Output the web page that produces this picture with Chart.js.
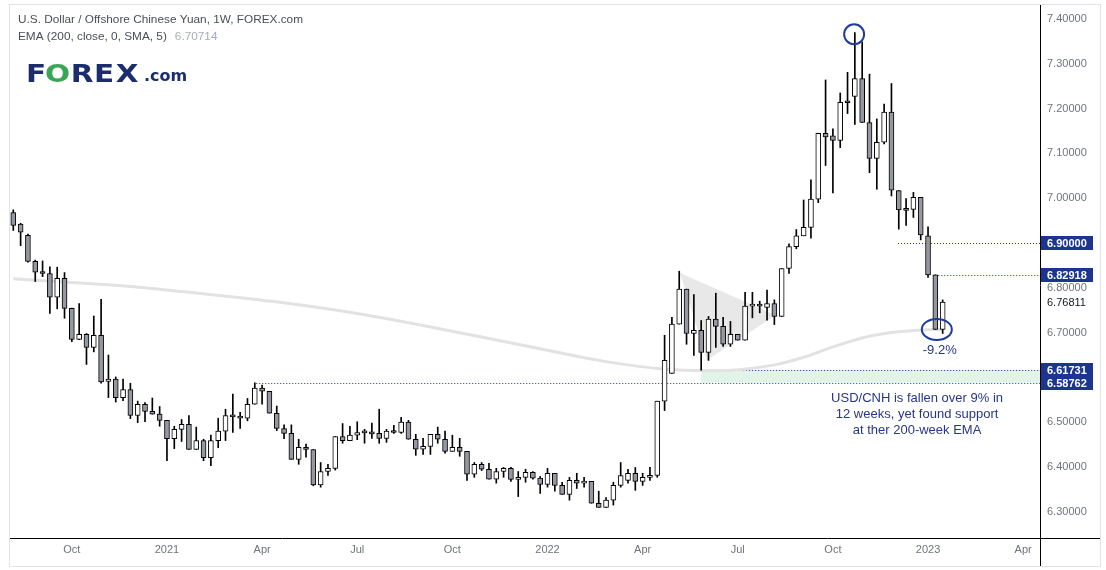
<!DOCTYPE html>
<html>
<head>
<meta charset="utf-8">
<script src="https://cdn.jsdelivr.net/npm/chart.js@4.4.0/dist/chart.umd.min.js"></script>
<style>
  html, body { margin: 0; padding: 0; background: #fff; }
  #wrap { width: 1106px; height: 570px; }
</style>
</head>
<body>
<div id="wrap"><canvas id="chart" width="1106" height="570"></canvas></div>
<script>
// weekly candles, index 0 = week of 10 Aug 2020, one step per week
const opens = [6.968,6.942,6.917,6.859,6.835,6.832,6.779,6.821,6.754,6.685,
  6.696,6.667,6.694,6.591,6.596,6.555,6.573,6.515,6.540,6.524,
  6.518,6.504,6.463,6.484,6.495,6.439,6.459,6.421,6.459,6.480,
  6.515,6.513,6.509,6.540,6.576,6.569,6.520,6.486,6.475,6.417,
  6.444,6.439,6.360,6.390,6.397,6.468,6.459,6.471,6.478,6.478,
  6.475,6.464,6.480,6.477,6.500,6.462,6.440,6.446,6.473,6.462,
  6.435,6.444,6.435,6.384,6.406,6.395,6.373,6.390,6.397,6.372,
  6.377,6.388,6.375,6.361,6.386,6.359,6.339,6.370,6.364,6.368,
  6.319,6.310,6.326,6.359,6.370,6.386,6.368,6.377,6.381,6.547,
  6.609,6.719,6.797,6.698,6.705,6.656,6.730,6.714,6.674,6.696,
  6.683,6.759,6.762,6.756,6.765,6.736,6.843,6.892,6.916,6.935,
  6.998,7.145,7.139,7.129,7.216,7.227,7.267,7.169,7.089,7.125,
  7.192,7.017,6.975,6.975,7.002,6.916,6.829,6.707];
const highs = [6.974,6.944,6.920,6.862,6.860,6.847,6.846,6.834,6.755,6.765,
  6.698,6.737,6.774,6.650,6.601,6.596,6.587,6.547,6.544,6.554,
  6.535,6.504,6.491,6.506,6.515,6.489,6.462,6.471,6.509,6.529,
  6.563,6.522,6.553,6.588,6.583,6.569,6.536,6.494,6.494,6.462,
  6.451,6.439,6.410,6.406,6.468,6.497,6.491,6.501,6.484,6.498,
  6.529,6.484,6.493,6.511,6.504,6.473,6.464,6.473,6.489,6.480,
  6.471,6.464,6.435,6.410,6.410,6.408,6.397,6.399,6.399,6.390,
  6.395,6.390,6.379,6.397,6.386,6.366,6.377,6.386,6.377,6.368,
  6.346,6.332,6.366,6.410,6.395,6.399,6.386,6.399,6.547,6.694,
  6.734,6.837,6.797,6.785,6.727,6.736,6.788,6.734,6.725,6.696,
  6.790,6.790,6.770,6.795,6.773,6.843,6.898,6.930,6.996,7.041,
  7.145,7.264,7.155,7.235,7.281,7.370,7.349,7.277,7.177,7.210,
  7.256,7.017,6.999,7.013,7.002,6.936,6.829,6.773];
const lows = [6.928,6.894,6.857,6.814,6.825,6.743,6.753,6.732,6.680,6.684,
  6.629,6.657,6.587,6.555,6.545,6.548,6.508,6.499,6.501,6.518,
  6.491,6.414,6.441,6.457,6.439,6.439,6.414,6.403,6.443,6.459,
  6.477,6.486,6.503,6.540,6.540,6.520,6.481,6.463,6.417,6.406,
  6.422,6.358,6.355,6.381,6.393,6.453,6.459,6.461,6.453,6.464,
  6.453,6.455,6.475,6.475,6.462,6.426,6.428,6.428,6.453,6.431,
  6.435,6.424,6.370,6.377,6.392,6.373,6.364,6.377,6.368,6.334,
  6.366,6.373,6.341,6.355,6.346,6.339,6.326,6.352,6.355,6.319,
  6.310,6.310,6.315,6.355,6.364,6.348,6.359,6.370,6.377,6.526,
  6.609,6.719,6.674,6.649,6.616,6.638,6.667,6.669,6.669,6.683,
  6.683,6.733,6.744,6.728,6.718,6.736,6.832,6.887,6.916,6.911,
  6.990,7.073,7.012,7.113,7.189,7.165,7.169,7.057,7.020,7.121,
  7.005,6.931,6.939,6.957,6.907,6.823,6.707,6.698];
const closes = [6.939,6.924,6.859,6.835,6.832,6.779,6.821,6.754,6.685,6.696,
  6.667,6.694,6.590,6.596,6.555,6.573,6.515,6.540,6.524,6.518,
  6.504,6.463,6.484,6.495,6.439,6.459,6.421,6.459,6.480,6.515,
  6.512,6.509,6.540,6.576,6.569,6.520,6.486,6.475,6.417,6.444,
  6.439,6.360,6.390,6.397,6.468,6.459,6.471,6.477,6.476,6.474,
  6.464,6.480,6.477,6.500,6.462,6.440,6.446,6.473,6.462,6.435,
  6.444,6.435,6.384,6.406,6.395,6.373,6.390,6.397,6.372,6.377,
  6.388,6.375,6.361,6.386,6.359,6.339,6.370,6.364,6.368,6.319,
  6.310,6.326,6.359,6.381,6.386,6.368,6.377,6.381,6.547,6.638,
  6.719,6.797,6.698,6.705,6.656,6.730,6.714,6.674,6.696,6.683,
  6.759,6.762,6.759,6.765,6.736,6.843,6.892,6.916,6.935,6.998,
  7.145,7.137,7.129,7.214,7.213,7.267,7.169,7.089,7.125,7.192,
  7.018,6.974,6.973,7.002,6.918,6.829,6.707,6.768];

// 200-week EMA at a few weeks
const emaWeeks  = [0, 8, 16, 24, 32, 40, 48, 56, 64, 72, 80, 88, 96, 104, 108, 112, 116, 120, 124, 127];
const emaValues = [6.820,6.812,6.803,6.790,6.776,6.760,6.740,6.716,6.690,6.664,6.638,6.620,6.615,6.628,6.645,6.668,6.688,6.700,6.706,6.707];
const emaLast = 6.70714;

const xTickWeeks  = [8, 21, 34, 47, 60, 73, 86, 99, 112, 125, 138];
const xTickLabels = ['Oct', '2021', 'Apr', 'Jul', 'Oct', '2022', 'Apr', 'Jul', 'Oct', '2023', 'Apr'];
const yTicks = [6.3, 6.4, 6.5, 6.7, 6.8, 7.0, 7.1, 7.2, 7.3, 7.4];

// marked levels and where their dotted lines begin (week)
const levels      = [6.90000, 6.82918, 6.61731, 6.58762];
const levelStarts = [120.9, 126.4, 94, 33.2];
const lastPrice = 6.76811;
const triangleWeeks  = [91.1, 104.2, 94.8];
const triangleValues = [6.833, 6.739, 6.639];

const NAVY = '#1b3591';
const weeks = opens.map((_, i) => i);

Chart.defaults.font.family = "'Liberation Sans', Arial, sans-serif";

const overlay = {
  id: 'overlay',
  beforeDatasetsDraw(chart) {
    const { ctx, chartArea: a, scales: { x, y } } = chart;
    ctx.save();
    ctx.beginPath();
    ctx.rect(a.left, a.top, a.right - a.left, a.bottom - a.top);
    ctx.clip();

    // support zone
    const zx = x.getPixelForValue(levelStarts[2]);
    const zt = y.getPixelForValue(levels[2]), zb = y.getPixelForValue(levels[3]);
    ctx.fillStyle = '#e2f4e7';
    ctx.fillRect(zx, zt, a.right - zx, zb - zt);

    // pennant
    ctx.fillStyle = 'rgba(190,190,190,0.35)';
    ctx.beginPath();
    triangleWeeks.forEach((w, k) => {
      const px = x.getPixelForValue(w), py = y.getPixelForValue(triangleValues[k]);
      k ? ctx.lineTo(px, py) : ctx.moveTo(px, py);
    });
    ctx.closePath();
    ctx.fill();

    // dotted levels
    ctx.strokeStyle = NAVY;
    ctx.lineWidth = 1;
    ctx.setLineDash([1, 2]);
    levels.forEach((v, k) => {
      const py = Math.round(y.getPixelForValue(v)) + 0.5;
      ctx.beginPath();
      ctx.moveTo(x.getPixelForValue(levelStarts[k]), py);
      ctx.lineTo(a.right, py);
      ctx.stroke();
    });
    ctx.restore();
  },
  afterDraw(chart) {
    const { ctx, chartArea: a, scales: { x, y } } = chart;
    ctx.save();

    // frame and axis lines
    ctx.strokeStyle = '#e0e3eb';
    ctx.lineWidth = 1;
    ctx.strokeRect(9.5, 4.5, 1091, 562);
    ctx.strokeStyle = '#000';
    ctx.beginPath();
    ctx.moveTo(a.right + 0.5, 5); ctx.lineTo(a.right + 0.5, 566);
    ctx.moveTo(a.left, a.bottom + 0.5); ctx.lineTo(1100, a.bottom + 0.5);
    ctx.stroke();

    // circles
    ctx.strokeStyle = '#1f3c9a';
    ctx.lineWidth = 2;
    ctx.beginPath();
    ctx.ellipse(x.getPixelForValue(114.9), y.getPixelForValue(7.366), 10, 10, 0, 0, Math.PI * 2);
    ctx.stroke();
    ctx.beginPath();
    ctx.ellipse(x.getPixelForValue(126.2), y.getPixelForValue(6.707), 15, 10.5, 0, 0, Math.PI * 2);
    ctx.stroke();

    // notes
    ctx.fillStyle = '#27368a';
    ctx.textAlign = 'center';
    ctx.textBaseline = 'middle';
    ctx.font = "13px 'Liberation Sans', Arial, sans-serif";
    ctx.fillText('-9.2%', x.getPixelForValue(126.6), y.getPixelForValue(6.661));
    const noteX = x.getPixelForValue(123.5);
    ['USD/CNH is fallen over 9% in', '12 weeks, yet found support', 'at ther 200-week EMA']
      .forEach((t, k) => ctx.fillText(t, noteX, 398 + k * 16));

    // price labels on the right axis
    ctx.textAlign = 'left';
    ctx.font = "bold 11px 'Liberation Sans', Arial, sans-serif";
    levels.forEach(v => {
      const py = Math.round(y.getPixelForValue(v));
      ctx.fillStyle = NAVY;
      ctx.fillRect(a.right + 1, py - 7, 52, 14);
      ctx.fillStyle = '#fff';
      ctx.fillText(v.toFixed(5), a.right + 7, py + 0.5);
    });
    ctx.fillStyle = '#131722';
    ctx.font = "11px 'Liberation Sans', Arial, sans-serif";
    ctx.fillText(lastPrice.toFixed(5), a.right + 7, y.getPixelForValue(lastPrice) + 0.5);

    // header
    ctx.font = "11.8px 'Liberation Sans', Arial, sans-serif";
    ctx.fillStyle = '#4a4d57';
    ctx.fillText('U.S. Dollar / Offshore Chinese Yuan, 1W, FOREX.com', 18, 20);
    const emaTxt = 'EMA (200, close, 0, SMA, 5)';
    ctx.fillText(emaTxt, 18, 37);
    ctx.fillStyle = '#a9acb5';
    ctx.fillText(emaLast.toFixed(5), 18 + ctx.measureText(emaTxt).width + 8, 37);

    // logo
    ctx.textBaseline = 'alphabetic';
    ctx.textAlign = 'center';
    ctx.font = "bold 25px 'DejaVu Sans', sans-serif";
    const letters = ['F', 'O', 'R', 'E', 'X'];
    const centers = [36, 57.5, 82, 104, 127];
    letters.forEach((l, k) => {
      ctx.save();
      ctx.translate(centers[k], 82);
      ctx.scale(1.18, 1);
      ctx.fillStyle = l === 'O' ? '#3aa655' : '#1c2d6e';
      ctx.fillText(l, 0, 0);
      ctx.restore();
    });
    ctx.textAlign = 'left';
    ctx.fillStyle = '#1c2d6e';
    ctx.font = "bold 16px 'DejaVu Sans', sans-serif";
    ctx.fillText('.com', 144, 81);

    ctx.restore();
  }
};

new Chart(document.getElementById('chart'), {
  type: 'bar',
  data: {
    datasets: [
      {
        type: 'bar',
        label: 'body',
        data: weeks.map(i => ({ x: i, y: [opens[i], closes[i]] })),
        backgroundColor: weeks.map(i => closes[i] >= opens[i] ? '#ffffff' : '#9598a1'),
        borderColor: '#000',
        borderWidth: 1,
        borderSkipped: false,
        barThickness: 5,
        minBarLength: 2,
        grouped: false,
        order: 1
      },
      {
        type: 'bar',
        label: 'wick',
        data: weeks.map(i => ({ x: i, y: [lows[i], highs[i]] })),
        backgroundColor: '#000',
        barThickness: 1,
        grouped: false,
        order: 2
      },
      {
        type: 'line',
        label: 'EMA',
        data: emaWeeks.map((w, k) => ({ x: w, y: emaValues[k] })),
        borderColor: '#e2e2e2',
        borderWidth: 3,
        pointRadius: 0,
        cubicInterpolationMode: 'monotone',
        order: 3
      }
    ]
  },
  options: {
    responsive: false,
    animation: false,
    layout: { padding: { left: 10, top: 5, right: 6, bottom: 4 } },
    plugins: { legend: { display: false }, tooltip: { enabled: false } },
    scales: {
      x: {
        type: 'linear',
        min: -0.45,
        max: 140.3,
        offset: false,
        grid: { display: false, drawTicks: false },
        border: { display: false },
        afterBuildTicks: axis => { axis.ticks = xTickWeeks.map(v => ({ value: v })); },
        afterFit: axis => { axis.height = 28; axis.paddingLeft = 0; axis.paddingRight = 0; },
        ticks: {
          autoSkip: false,
          maxRotation: 0,
          padding: 5,
          color: '#6f737d',
          font: { size: 11 },
          callback: (v, i) => xTickLabels[i]
        }
      },
      y: {
        position: 'right',
        min: 6.2415,
        max: 7.4313,
        grid: { display: false, drawTicks: false },
        border: { display: false },
        afterBuildTicks: axis => { axis.ticks = yTicks.map(v => ({ value: v })); },
        afterFit: axis => { axis.width = 60; axis.paddingTop = 0; axis.paddingBottom = 0; },
        ticks: {
          padding: 7,
          color: '#6f737d',
          font: { size: 11 },
          callback: v => v.toFixed(5)
        }
      }
    }
  },
  plugins: [overlay]
});
</script>
</body>
</html>
